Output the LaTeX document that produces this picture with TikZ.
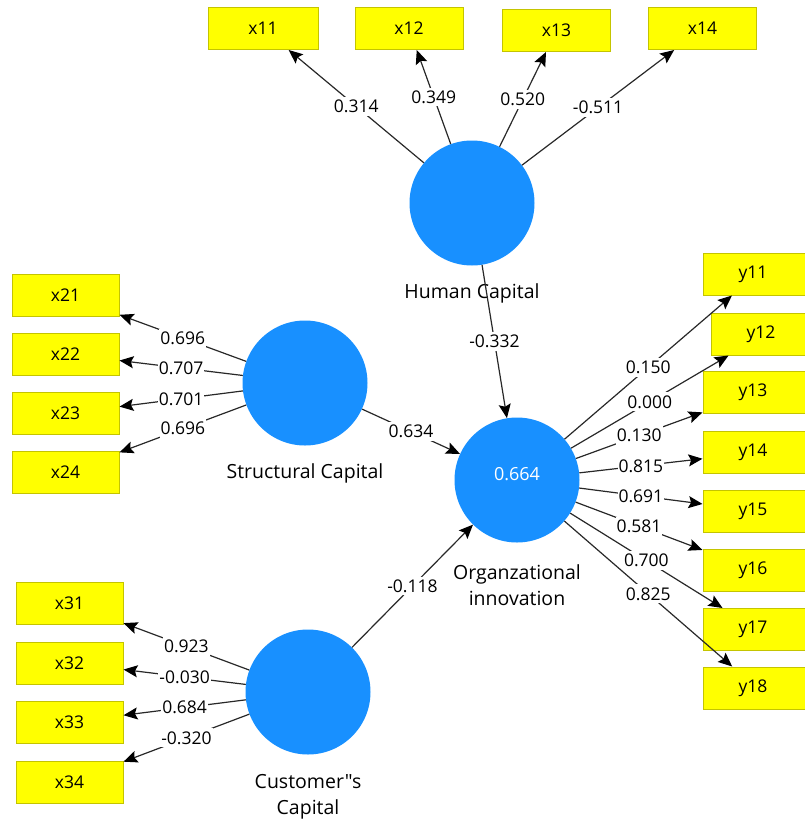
\documentclass[tikz,border=0pt]{standalone}
\usepackage{fontspec}
\newfontfamily\plainfont{Open Sans}
\usetikzlibrary{arrows.meta}
\definecolor{lvblue}{RGB}{24,144,255}
\definecolor{mvborder}{RGB}{196,196,0}
\definecolor{mvfill}{RGB}{255,255,0}
\definecolor{linec}{RGB}{40,40,40}
\tikzset{
  lv/.style={circle, fill=lvblue, draw=none, minimum size=125pt, inner sep=0pt},
  mv/.style={rectangle, fill=mvfill, draw=mvborder, line width=1pt, minimum width=108pt, minimum height=42pt, inner sep=0pt, font=\plainfont\fontsize{17.5}{19}\selectfont},
  lbl/.style={fill=white, inner xsep=1pt, inner ysep=3pt, font=\plainfont\fontsize{17.5}{19}\selectfont},
  lvname/.style={align=center, font=\plainfont\fontsize{19.5}{26}\selectfont},
  arr/.style={draw=linec, line width=1.2pt, -{Stealth[length=14pt, width=12pt, inset=2.5pt, color=black]}}
}
\begin{document}
\begin{tikzpicture}[x=1pt, y=-1pt]
\useasboundingbox (0,0) rectangle (804,825);
% latent variables
\node[lv] (hc) at (472,203) {};
\node[lv] (sc) at (305,383) {};
\node[lv] (oi) at (517,480) {};
\node[lv] (cc) at (308,692) {};
\node[text=white, font=\plainfont\fontsize{18}{20}\selectfont] (r2) at (517,474) {0.664};
% latent names
\node[lvname] (hcname) at (472,293) {Human Capital};
\node[lvname] (scname) at (305,473) {Structural Capital};
\node[lvname] (oiname) at (517,585) {Organzational\\innovation};
\node[lvname] (ccname) at (308,797) {Customer"s\\Capital};
% indicators
\node[mv, minimum width=110pt] (x11) at (263,28.5) {x11};
\node[mv] (x12) at (409,28.5) {x12};
\node[mv] (x13) at (556.5,30.5) {x13};
\node[mv] (x14) at (702.5,28.5) {x14};
\node[mv, minimum width=107pt] (x21) at (65.5,295) {x21};
\node[mv, minimum width=107pt] (x22) at (65.5,354) {x22};
\node[mv, minimum width=107pt] (x23) at (65.5,413.5) {x23};
\node[mv, minimum width=107pt] (x24) at (65.5,472.5) {x24};
\node[mv, minimum width=107pt] (x31) at (69.5,603) {x31};
\node[mv, minimum width=107pt] (x32) at (69.5,663) {x32};
\node[mv, minimum width=107pt] (x33) at (69.5,722) {x33};
\node[mv, minimum width=107pt] (x34) at (69.5,782) {x34};
\node[mv] (y11) at (757,274) {\hspace*{-8pt}y11};
\node[mv] (y12) at (765,334) {\hspace*{-8pt}y12};
\node[mv] (y13) at (757,392.5) {\hspace*{-8pt}y13};
\node[mv] (y14) at (757,452.5) {\hspace*{-8pt}y14};
\node[mv] (y15) at (757,511) {\hspace*{-8pt}y15};
\node[mv] (y16) at (757,570.5) {\hspace*{-8pt}y16};
\node[mv] (y17) at (757,629.5) {\hspace*{-8pt}y17};
\node[mv] (y18) at (757,688) {\hspace*{-8pt}y18};
% outer loadings: human capital
\draw[arr] (hc) -- node[lbl]{0.314} (x11);
\draw[arr] (hc) -- node[lbl]{0.349} (x12);
\draw[arr] (hc) -- node[lbl]{0.520} (x13);
\draw[arr] (hc) -- node[lbl]{-0.511} (x14);
% structural capital
\draw[arr] (sc) -- node[lbl]{0.696} (x21);
\draw[arr] (sc) -- node[lbl]{0.707} (x22);
\draw[arr] (sc) -- node[lbl]{0.701} (x23);
\draw[arr] (sc) -- node[lbl]{0.696} (x24);
% customer capital
\draw[arr] (cc) -- node[lbl]{0.923} (x31);
\draw[arr] (cc) -- node[lbl]{-0.030} (x32);
\draw[arr] (cc) -- node[lbl]{0.684} (x33);
\draw[arr] (cc) -- node[lbl]{-0.320} (x34);
% organizational innovation
\draw[arr] (oi) -- node[lbl]{0.150} (y11);
\draw[arr] (oi) -- node[lbl]{0.000} (y12);
\draw[arr] (oi) -- node[lbl]{0.130} (y13);
\draw[arr] (oi) -- node[lbl]{0.815} (y14);
\draw[arr] (oi) -- node[lbl]{0.691} (y15);
\draw[arr] (oi) -- node[lbl]{0.581} (y16);
\draw[arr] (oi) -- node[lbl]{0.700} (y17);
\draw[arr] (oi) -- node[lbl]{0.825} (y18);
% structural paths
\draw[arr] (hc) -- node[lbl]{-0.332} (oi);
\draw[arr] (sc) -- node[lbl]{0.634} (oi);
\draw[arr] (cc) -- node[lbl]{-0.118} (oi);
\end{tikzpicture}
\end{document}
